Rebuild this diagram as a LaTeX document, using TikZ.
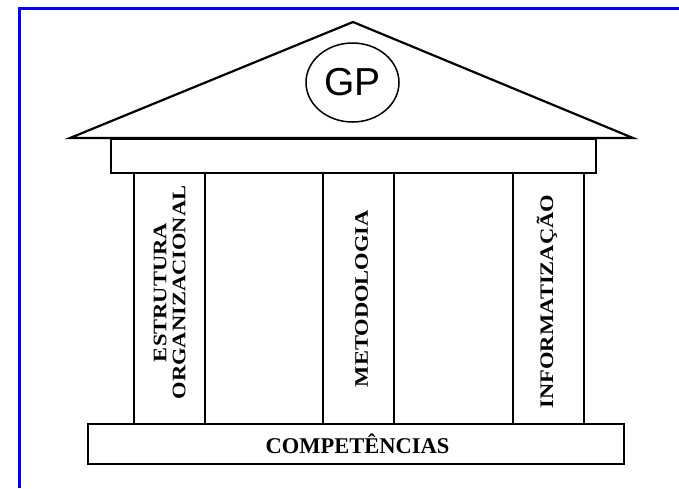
\documentclass[tikz,border=0pt]{standalone}
\usepackage{fontspec}
\setmainfont{Liberation Serif}
\newfontfamily\gpfont{Liberation Sans}
\usetikzlibrary{shapes.geometric}
\begin{document}
\begin{tikzpicture}[
  x=1pt, y=-1pt,
  part/.style={rectangle, draw, line width=2.2pt, inner sep=0pt, anchor=north west},
  pillartext/.style={rotate=90, yscale=0.85, align=center, inner sep=0pt,
    font=\bfseries\fontsize{22.5}{22.5}\selectfont},
  font=\bfseries
]
\useasboundingbox (0,0) rectangle (679,488);
% frame
\draw[blue, line width=2.5pt] (19.5,488) -- (19.5,8.5) -- (679,8.5);

% roof
\coordinate (eaveL) at (70,138);
\coordinate (apex) at (353,22);
\coordinate (eaveR) at (633,138);
\draw[line width=2.2pt, line join=miter] (eaveL) -- (apex) -- (eaveR) -- cycle;
\node[ellipse, draw, line width=1.5pt, minimum width=93, minimum height=79, inner sep=0pt] (gp) at (352.5,82.5)
  {\gpfont\mdseries\fontsize{39}{39}\selectfont GP};

\node[part, minimum width=485, minimum height=34] (beam) at (110,138) {};

% pillars
\foreach \x/\name in {133/colA, 322/colB, 512/colC}
  \node[part, minimum width=71, minimum height=251] (\name) at (\x,172) {};

\node[pillartext, xshift=6pt] (estrutura) at (colA.center) {ESTRUTURA\\ORGANIZACIONAL};
\node[pillartext, yshift=-3.5pt] (metodo) at (colB.center) {METODOLOGIA};
\node[pillartext, xshift=-3pt, yshift=2pt] (info) at (colC.center) {INFORMATIZAÇÃO};

% base
\node[part, minimum width=536, minimum height=40] (base) at (87,423) {};
\node[font=\bfseries\fontsize{22.5}{22.5}\selectfont, xshift=1.5pt] (compet) at (base.center) {COMPETÊNCIAS};
\end{tikzpicture}
\end{document}
